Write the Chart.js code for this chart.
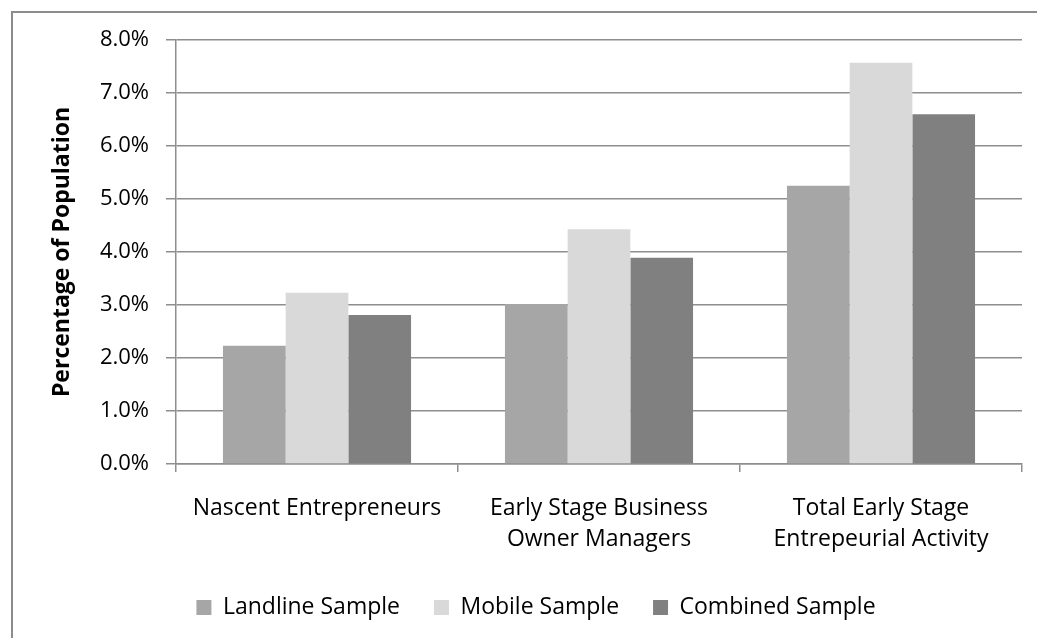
<!DOCTYPE html>
<html>
<head>
<meta charset="utf-8">
<script src="https://cdn.jsdelivr.net/npm/chart.js@4.4.0/dist/chart.umd.min.js"></script>
<style>
    html, body { margin: 0; padding: 0; background: #fff; overflow: hidden; }
    #frame {
        position: absolute; left: 11px; top: 11px; width: 1100px; height: 700px;
        border-left: 2px solid #8c8c8c; border-top: 2px solid #8c8c8c;
    }
    #wrap { position: absolute; left: 0; top: 0; width: 1037px; height: 638px; }
</style>
</head>
<body>
<div id="frame"></div>
<div id="wrap"><canvas id="samplesChart"></canvas></div>
<script>
const categories = [
    "Nascent Entrepreneurs",
    ["Early Stage Business", "Owner Managers"],
    ["Total Early Stage", "Entrepeurial Activity"]
];
const landline = [2.23, 3.02, 5.25];
const mobile = [3.23, 4.43, 7.57];
const combined = [2.81, 3.89, 6.60];
const yTickLabels = ["0.0%", "1.0%", "2.0%", "3.0%", "4.0%", "5.0%", "6.0%", "7.0%", "8.0%"];

const gridGrey = "#8e8e8e";

// nudge the legend a bit to the right, like the original
const legendShift = {
    id: "legendShift",
    afterLayout(chart) {
        if (chart.legend) {
            chart.legend.left += 25;
            chart.legend.right += 25;
        }
    }
};

document.addEventListener("DOMContentLoaded", () => {
    const ctx = document.getElementById("samplesChart");
    new Chart(ctx, {
        type: "bar",
        data: {
            labels: categories,
            datasets: [
                { label: "Landline Sample", data: landline, backgroundColor: "#a6a6a6" },
                { label: "Mobile Sample", data: mobile, backgroundColor: "#d9d9d9" },
                { label: "Combined Sample", data: combined, backgroundColor: "#808080" }
            ]
        },
        plugins: [legendShift],
        options: {
            responsive: true,
            maintainAspectRatio: false,
            animation: false,
            categoryPercentage: 0.667,
            barPercentage: 1.0,
            layout: { padding: { top: 40, right: 15, left: 0, bottom: 9 } },
            plugins: {
                tooltip: { enabled: false },
                legend: {
                    position: "bottom",
                    labels: {
                        boxWidth: 15,
                        boxHeight: 15,
                        padding: 34,
                        color: "#000",
                        font: { family: "Open Sans", size: 23 }
                    }
                }
            },
            scales: {
                x: {
                    grid: {
                        display: true,
                        drawOnChartArea: false,
                        drawTicks: true,
                        tickLength: 8,
                        color: gridGrey,
                        lineWidth: 1.5
                    },
                    border: { color: gridGrey, width: 1.5 },
                    ticks: {
                        color: "#000",
                        padding: 21,
                        maxRotation: 0,
                        font: { family: "Open Sans", size: 23, lineHeight: 1.35 }
                    },
                    afterFit: (scale) => { scale.height = 98; }
                },
                y: {
                    min: 0,
                    max: 8,
                    ticks: {
                        stepSize: 1,
                        color: "#000",
                        padding: 17,
                        font: { family: "Open Sans", size: 22 },
                        callback: (value, index) => yTickLabels[index]
                    },
                    grid: { color: gridGrey, lineWidth: 1.5, tickLength: 10 },
                    border: { color: gridGrey, width: 1.5 },
                    title: {
                        display: true,
                        text: "Percentage of Population",
                        color: "#000",
                        padding: { top: 49, bottom: 0 },
                        font: { family: "Open Sans", size: 23, weight: "bold" }
                    },
                    afterFit: (scale) => { scale.width = 176; }
                }
            }
        }
    });
});
</script>
</body>
</html>
